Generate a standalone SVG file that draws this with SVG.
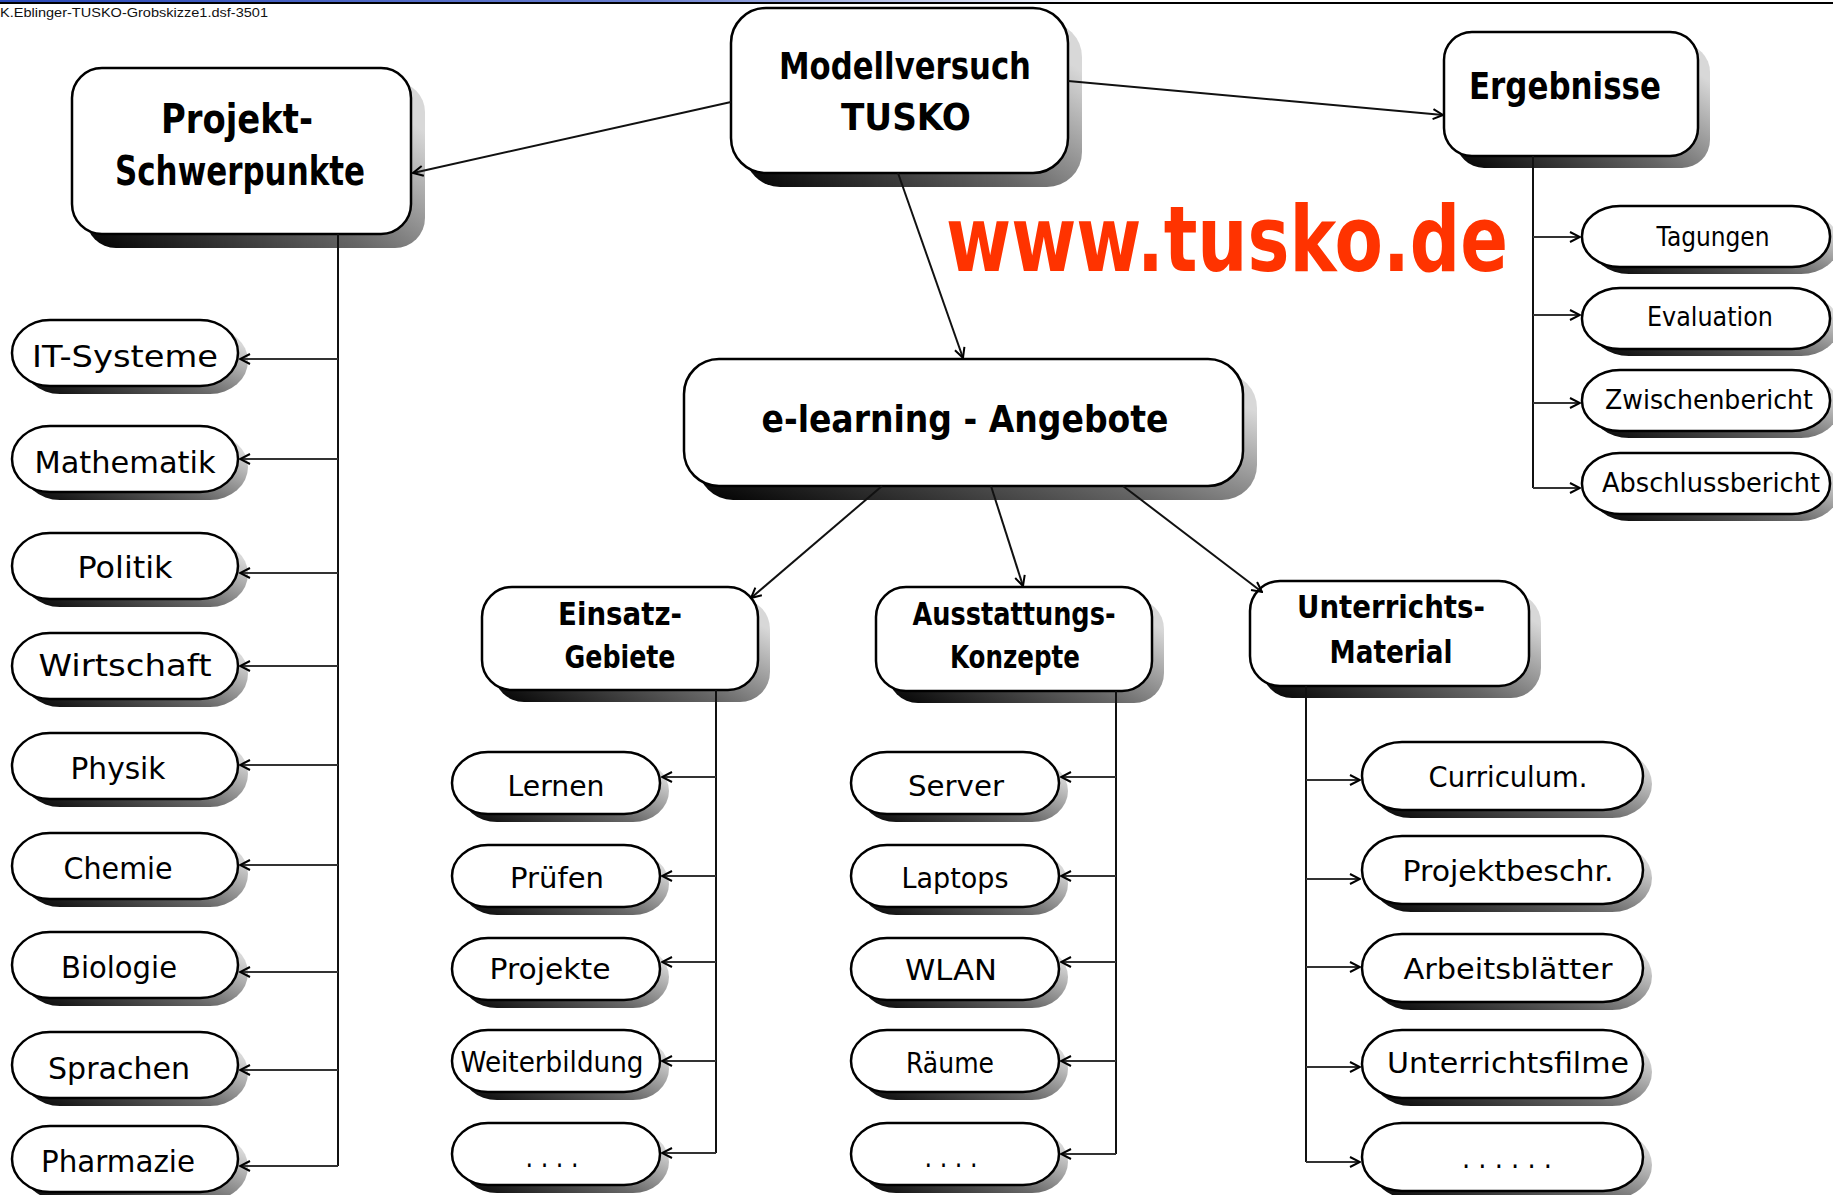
<svg xmlns="http://www.w3.org/2000/svg" width="1833" height="1195" viewBox="0 0 1833 1195">
<defs>
<linearGradient id="shg" x1="0" y1="1" x2="1" y2="0.3">
<stop offset="0" stop-color="#000"/>
<stop offset="0.55" stop-color="#666"/>
<stop offset="1" stop-color="#d8d8d8"/>
</linearGradient>
<linearGradient id="topg" x1="0" y1="0" x2="1" y2="0">
<stop offset="0" stop-color="#2a49b8"/>
<stop offset="0.35" stop-color="#6a7fd0"/>
<stop offset="0.6" stop-color="#ffffff"/>
</linearGradient>
<marker id="ah" viewBox="0 0 12 12" refX="11" refY="6" markerWidth="12" markerHeight="12" markerUnits="userSpaceOnUse" orient="auto">
<path d="M1,1 L11,6 L1,11" fill="none" stroke="#000" stroke-width="2"/>
</marker>
</defs>
<style>
.sh{fill:url(#shg)}
.bx{fill:#fff;stroke:#000;stroke-width:2.5}
.t{font-family:"DejaVu Sans","Noto Sans",sans-serif;text-anchor:middle;fill:#000}
.tb{font-family:"DejaVu Sans","Noto Sans",sans-serif;text-anchor:middle;fill:#000;font-weight:bold}
.c{fill:none;stroke:#111;stroke-width:2}
.cb{fill:none;stroke:#333;stroke-width:2;marker-end:url(#ah)}
.ca{fill:none;stroke:#111;stroke-width:2;marker-end:url(#ah)}
</style>
<rect x="0" y="0" width="1833" height="2" fill="url(#topg)"/>
<rect x="0" y="2" width="1833" height="2" fill="#000"/>
<text x="0" y="17" font-family="Liberation Sans, sans-serif" font-size="12" textLength="268" lengthAdjust="spacingAndGlyphs" fill="#111">K.Eblinger-TUSKO-Grobskizze1.dsf-3501</text>

<g id="projekt">
<rect class="sh" x="86" y="82" width="339" height="166" rx="30"/>
<rect class="bx" x="72" y="68" width="339" height="166" rx="30"/>
<text class="tb" x="237" y="133" font-size="40" textLength="152" lengthAdjust="spacingAndGlyphs">Projekt-</text>
<text class="tb" x="240" y="185" font-size="40" textLength="250" lengthAdjust="spacingAndGlyphs">Schwerpunkte</text>
</g>
<g id="modell">
<rect class="sh" x="745" y="22" width="337" height="165" rx="35"/>
<rect class="bx" x="731" y="8" width="337" height="165" rx="35"/>
<text class="tb" x="905" y="79" font-size="38" textLength="252" lengthAdjust="spacingAndGlyphs">Modellversuch</text>
<text class="tb" x="906" y="130" font-size="38" textLength="130" lengthAdjust="spacingAndGlyphs">TUSKO</text>
</g>
<g id="ergebnisse">
<rect class="sh" x="1456" y="44" width="254" height="124" rx="28"/>
<rect class="bx" x="1444" y="32" width="254" height="124" rx="28"/>
<text class="tb" x="1565" y="99" font-size="38" textLength="192" lengthAdjust="spacingAndGlyphs">Ergebnisse</text>
</g>
<text x="1227" y="271" font-family="DejaVu Sans, sans-serif" font-weight="bold" font-size="90" fill="#ff3300" text-anchor="middle" textLength="562" lengthAdjust="spacingAndGlyphs">www.tusko.de</text>
<g id="elearning">
<rect class="sh" x="698" y="373" width="559" height="127" rx="35"/>
<rect class="bx" x="684" y="359" width="559" height="127" rx="35"/>
<text class="tb" x="965" y="432" font-size="38" textLength="407" lengthAdjust="spacingAndGlyphs">e-learning  -  Angebote</text>
</g>
<g id="einsatz">
<rect class="sh" x="494" y="599" width="276" height="103" rx="30"/>
<rect class="bx" x="482" y="587" width="276" height="103" rx="30"/>
<text class="tb" x="620" y="625" font-size="32" textLength="124" lengthAdjust="spacingAndGlyphs">Einsatz-</text>
<text class="tb" x="620" y="668" font-size="32" textLength="111" lengthAdjust="spacingAndGlyphs">Gebiete</text>
</g>
<g id="ausstattung">
<rect class="sh" x="888" y="599" width="276" height="104" rx="30"/>
<rect class="bx" x="876" y="587" width="276" height="104" rx="30"/>
<text class="tb" x="1014" y="625" font-size="32" textLength="203" lengthAdjust="spacingAndGlyphs">Ausstattungs-</text>
<text class="tb" x="1015" y="668" font-size="32" textLength="130" lengthAdjust="spacingAndGlyphs">Konzepte</text>
</g>
<g id="unterrichts">
<rect class="sh" x="1262" y="593" width="279" height="105" rx="30"/>
<rect class="bx" x="1250" y="581" width="279" height="105" rx="30"/>
<text class="tb" x="1391" y="618" font-size="32" textLength="188" lengthAdjust="spacingAndGlyphs">Unterrichts-</text>
<text class="tb" x="1391" y="663" font-size="32" textLength="123" lengthAdjust="spacingAndGlyphs">Material</text>
</g>

<g id="it-systeme"><rect class="sh" x="22" y="328" width="226" height="66" rx="38" ry="33"/><rect class="bx" x="12" y="320" width="226" height="66" rx="38" ry="33"/><text class="t" x="125" y="367" font-size="30" textLength="186" lengthAdjust="spacingAndGlyphs">IT-Systeme</text></g>
<g id="mathematik"><rect class="sh" x="22" y="434" width="226" height="66" rx="38" ry="33"/><rect class="bx" x="12" y="426" width="226" height="66" rx="38" ry="33"/><text class="t" x="125" y="473" font-size="30" textLength="181" lengthAdjust="spacingAndGlyphs">Mathematik</text></g>
<g id="politik"><rect class="sh" x="22" y="541" width="226" height="66" rx="38" ry="33"/><rect class="bx" x="12" y="533" width="226" height="66" rx="38" ry="33"/><text class="t" x="125" y="578" font-size="30" textLength="95" lengthAdjust="spacingAndGlyphs">Politik</text></g>
<g id="wirtschaft"><rect class="sh" x="22" y="641" width="226" height="66" rx="38" ry="33"/><rect class="bx" x="12" y="633" width="226" height="66" rx="38" ry="33"/><text class="t" x="125" y="676" font-size="30" textLength="173" lengthAdjust="spacingAndGlyphs">Wirtschaft</text></g>
<g id="physik"><rect class="sh" x="22" y="741" width="226" height="66" rx="38" ry="33"/><rect class="bx" x="12" y="733" width="226" height="66" rx="38" ry="33"/><text class="t" x="118" y="779" font-size="30" textLength="95" lengthAdjust="spacingAndGlyphs">Physik</text></g>
<g id="chemie"><rect class="sh" x="22" y="841" width="226" height="66" rx="38" ry="33"/><rect class="bx" x="12" y="833" width="226" height="66" rx="38" ry="33"/><text class="t" x="118" y="879" font-size="30" textLength="109" lengthAdjust="spacingAndGlyphs">Chemie</text></g>
<g id="biologie"><rect class="sh" x="22" y="940" width="226" height="66" rx="38" ry="33"/><rect class="bx" x="12" y="932" width="226" height="66" rx="38" ry="33"/><text class="t" x="119" y="978" font-size="30" textLength="116" lengthAdjust="spacingAndGlyphs">Biologie</text></g>
<g id="sprachen"><rect class="sh" x="22" y="1040" width="226" height="66" rx="38" ry="33"/><rect class="bx" x="12" y="1032" width="226" height="66" rx="38" ry="33"/><text class="t" x="119" y="1079" font-size="30" textLength="142" lengthAdjust="spacingAndGlyphs">Sprachen</text></g>
<g id="pharmazie"><rect class="sh" x="22" y="1134" width="226" height="66" rx="38" ry="33"/><rect class="bx" x="12" y="1126" width="226" height="66" rx="38" ry="33"/><text class="t" x="118" y="1172" font-size="30" textLength="154" lengthAdjust="spacingAndGlyphs">Pharmazie</text></g>

<g id="lernen"><rect class="sh" x="461" y="760" width="208" height="62" rx="36" ry="31"/><rect class="bx" x="452" y="752" width="208" height="62" rx="36" ry="31"/><text class="t" x="556" y="796" font-size="29" textLength="97" lengthAdjust="spacingAndGlyphs">Lernen</text></g>
<g id="pruefen"><rect class="sh" x="461" y="853" width="208" height="62" rx="36" ry="31"/><rect class="bx" x="452" y="845" width="208" height="62" rx="36" ry="31"/><text class="t" x="557" y="888" font-size="29" textLength="94" lengthAdjust="spacingAndGlyphs">Prüfen</text></g>
<g id="projekte"><rect class="sh" x="461" y="946" width="208" height="62" rx="36" ry="31"/><rect class="bx" x="452" y="938" width="208" height="62" rx="36" ry="31"/><text class="t" x="550" y="979" font-size="29" textLength="121" lengthAdjust="spacingAndGlyphs">Projekte</text></g>
<g id="weiterbildung"><rect class="sh" x="461" y="1038" width="208" height="62" rx="36" ry="31"/><rect class="bx" x="452" y="1030" width="208" height="62" rx="36" ry="31"/><text class="t" x="552" y="1072" font-size="29" textLength="183" lengthAdjust="spacingAndGlyphs">Weiterbildung</text></g>
<g id="einsatz-more"><rect class="sh" x="461" y="1131" width="208" height="62" rx="36" ry="31"/><rect class="bx" x="452" y="1123" width="208" height="62" rx="36" ry="31"/><text class="t" x="552" y="1167" font-size="29" textLength="53" lengthAdjust="spacingAndGlyphs">. . . .</text></g>

<g id="server"><rect class="sh" x="860" y="760" width="208" height="62" rx="36" ry="31"/><rect class="bx" x="851" y="752" width="208" height="62" rx="36" ry="31"/><text class="t" x="956" y="796" font-size="29" textLength="96" lengthAdjust="spacingAndGlyphs">Server</text></g>
<g id="laptops"><rect class="sh" x="860" y="853" width="208" height="62" rx="36" ry="31"/><rect class="bx" x="851" y="845" width="208" height="62" rx="36" ry="31"/><text class="t" x="955" y="888" font-size="29" textLength="107" lengthAdjust="spacingAndGlyphs">Laptops</text></g>
<g id="wlan"><rect class="sh" x="860" y="946" width="208" height="62" rx="36" ry="31"/><rect class="bx" x="851" y="938" width="208" height="62" rx="36" ry="31"/><text class="t" x="951" y="980" font-size="29" textLength="92" lengthAdjust="spacingAndGlyphs">WLAN</text></g>
<g id="raeume"><rect class="sh" x="860" y="1038" width="208" height="62" rx="36" ry="31"/><rect class="bx" x="851" y="1030" width="208" height="62" rx="36" ry="31"/><text class="t" x="950" y="1073" font-size="29" textLength="88" lengthAdjust="spacingAndGlyphs">Räume</text></g>
<g id="ausstattung-more"><rect class="sh" x="860" y="1131" width="208" height="62" rx="36" ry="31"/><rect class="bx" x="851" y="1123" width="208" height="62" rx="36" ry="31"/><text class="t" x="951" y="1167" font-size="29" textLength="53" lengthAdjust="spacingAndGlyphs">. . . .</text></g>

<g id="curriculum"><rect class="sh" x="1371" y="750" width="281" height="68" rx="40" ry="34"/><rect class="bx" x="1362" y="742" width="281" height="68" rx="40" ry="34"/><text class="t" x="1508" y="787" font-size="29" textLength="159" lengthAdjust="spacingAndGlyphs">Curriculum.</text></g>
<g id="projektbeschr"><rect class="sh" x="1371" y="844" width="281" height="68" rx="40" ry="34"/><rect class="bx" x="1362" y="836" width="281" height="68" rx="40" ry="34"/><text class="t" x="1508" y="881" font-size="29" textLength="211" lengthAdjust="spacingAndGlyphs">Projektbeschr.</text></g>
<g id="arbeitsblaetter"><rect class="sh" x="1371" y="942" width="281" height="68" rx="40" ry="34"/><rect class="bx" x="1362" y="934" width="281" height="68" rx="40" ry="34"/><text class="t" x="1508" y="979" font-size="29" textLength="209" lengthAdjust="spacingAndGlyphs">Arbeitsblätter</text></g>
<g id="unterrichtsfilme"><rect class="sh" x="1371" y="1038" width="281" height="68" rx="40" ry="34"/><rect class="bx" x="1362" y="1030" width="281" height="68" rx="40" ry="34"/><text class="t" x="1508" y="1073" font-size="29" textLength="242" lengthAdjust="spacingAndGlyphs">Unterrichtsfilme</text></g>
<g id="unterrichts-more"><rect class="sh" x="1371" y="1131" width="281" height="68" rx="40" ry="34"/><rect class="bx" x="1362" y="1123" width="281" height="68" rx="40" ry="34"/><text class="t" x="1507" y="1168" font-size="29" textLength="90" lengthAdjust="spacingAndGlyphs">. . . . . .</text></g>

<g id="tagungen"><rect class="sh" x="1591" y="213" width="248" height="61" rx="38" ry="30"/><rect class="bx" x="1582" y="206" width="248" height="61" rx="38" ry="30"/><text class="t" x="1713" y="246" font-size="26" textLength="113" lengthAdjust="spacingAndGlyphs">Tagungen</text></g>
<g id="evaluation"><rect class="sh" x="1591" y="295" width="248" height="61" rx="38" ry="30"/><rect class="bx" x="1582" y="288" width="248" height="61" rx="38" ry="30"/><text class="t" x="1710" y="326" font-size="26" textLength="126" lengthAdjust="spacingAndGlyphs">Evaluation</text></g>
<g id="zwischenbericht"><rect class="sh" x="1591" y="377" width="248" height="61" rx="38" ry="30"/><rect class="bx" x="1582" y="370" width="248" height="61" rx="38" ry="30"/><text class="t" x="1709" y="409" font-size="26" textLength="208" lengthAdjust="spacingAndGlyphs">Zwischenbericht</text></g>
<g id="abschlussbericht"><rect class="sh" x="1591" y="460" width="248" height="61" rx="38" ry="30"/><rect class="bx" x="1582" y="453" width="248" height="61" rx="38" ry="30"/><text class="t" x="1711" y="492" font-size="26" textLength="218" lengthAdjust="spacingAndGlyphs">Abschlussbericht</text></g>

<g id="connectors">
<path class="ca" d="M731,102 L413,173"/>
<path class="ca" d="M1068,81 L1443,115"/>
<path class="ca" d="M898,173 L963,358"/>
<path class="ca" d="M882,486 L751,598"/>
<path class="ca" d="M991,486 L1023,586"/>
<path class="ca" d="M1123,486 L1262,592"/>

<path class="c" d="M338,234 V1166"/>
<path class="cb" d="M338,359 H240"/>
<path class="cb" d="M338,459 H240"/>
<path class="cb" d="M338,573 H240"/>
<path class="cb" d="M338,666 H240"/>
<path class="cb" d="M338,765 H240"/>
<path class="cb" d="M338,865 H240"/>
<path class="cb" d="M338,972 H240"/>
<path class="cb" d="M338,1070 H240"/>
<path class="cb" d="M338,1166 H240"/>

<path class="c" d="M716,690 V1153"/>
<path class="cb" d="M716,777 H662"/>
<path class="cb" d="M716,876 H662"/>
<path class="cb" d="M716,962 H662"/>
<path class="cb" d="M716,1061 H662"/>
<path class="cb" d="M716,1153 H662"/>

<path class="c" d="M1116,691 V1154"/>
<path class="cb" d="M1116,777 H1061"/>
<path class="cb" d="M1116,876 H1061"/>
<path class="cb" d="M1116,962 H1061"/>
<path class="cb" d="M1116,1061 H1061"/>
<path class="cb" d="M1116,1154 H1061"/>

<path class="c" d="M1306,686 V1162"/>
<path class="cb" d="M1306,780 H1360"/>
<path class="cb" d="M1306,879 H1360"/>
<path class="cb" d="M1306,967 H1360"/>
<path class="cb" d="M1306,1067 H1360"/>
<path class="cb" d="M1306,1162 H1360"/>

<path class="c" d="M1533,156 V488"/>
<path class="cb" d="M1533,237 H1580"/>
<path class="cb" d="M1533,315 H1580"/>
<path class="cb" d="M1533,403 H1580"/>
<path class="cb" d="M1533,488 H1580"/>
</g>
</svg>
